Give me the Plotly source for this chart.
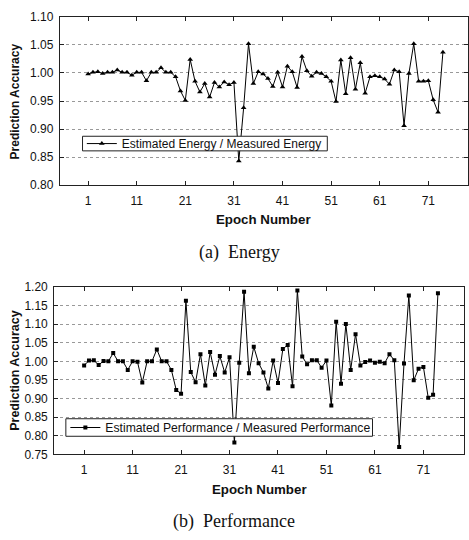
import plotly.graph_objects as go

epochs = list(range(1, 75))

energy_ratio = [
    0.998, 1.001, 1.002, 0.999, 1.001, 1.001, 1.005, 1.001, 1.001, 0.996,
    1.001, 1.001, 0.986, 1.001, 1.001, 1.009, 1.001, 1.001, 0.993, 0.968,
    0.951, 1.024, 0.985, 0.966, 0.981, 0.957, 0.983, 0.975, 0.984, 0.979,
    0.983, 0.843, 0.938, 1.052, 0.981, 1.002, 0.998, 0.990, 0.976, 1.001,
    0.975, 1.012, 1.002, 0.974, 1.029, 1.004, 0.994, 1.001, 0.999, 0.993,
    0.985, 0.949, 1.023, 0.963, 1.027, 0.971, 1.018, 0.964, 0.993, 0.995,
    0.993, 0.989, 0.980, 1.005, 1.002, 0.906, 0.999, 1.052, 0.985, 0.985,
    0.986, 0.952, 0.930, 1.037,
]

perf_ratio = [
    0.989, 1.002, 1.003, 0.990, 1.001, 1.000, 1.022, 1.000, 1.000, 0.977,
    1.000, 0.999, 0.943, 1.000, 1.000, 1.032, 1.000, 1.000, 0.977, 0.923,
    0.913, 1.163, 0.971, 0.944, 1.019, 0.935, 1.025, 0.964, 1.014, 0.970,
    1.011, 0.782, 0.996, 1.187, 0.968, 1.039, 0.995, 0.970, 0.927, 1.002,
    0.942, 1.033, 1.044, 0.933, 1.190, 1.013, 0.992, 1.003, 1.003, 0.983,
    1.002, 0.881, 1.106, 0.940, 1.100, 0.977, 1.073, 0.989, 0.998, 1.002,
    0.996, 0.999, 0.995, 1.019, 1.003, 0.770, 0.994, 1.177, 0.949, 0.980,
    0.985, 0.902, 0.910, 1.183,
]

x_tick_vals = [1, 11, 21, 31, 41, 51, 61, 71]
x_tick_text = ["1", "11", "21", "31", "41", "51", "61", "71"]
energy_label = "Estimated Energy / Measured Energy"
perf_label = "Estimated Performance / Measured Performance"
y_title = "Prediction Accuracy"
x_title = "Epoch Number"
caption_a = "(a)\u00a0 Energy"
caption_b = "(b)\u00a0 Performance"

W, H = 469, 540
SANS = "Liberation Sans, Arial, sans-serif"
SERIF = "Liberation Serif, Times New Roman, serif"

def px(x):
    return x / W

def py(y):
    return 1 - y / H

fig = go.Figure()

fig.add_trace(go.Scatter(
    x=epochs, y=energy_ratio, mode="lines+markers", name=energy_label,
    line=dict(color="black", width=1),
    marker=dict(symbol="triangle-up", size=5, color="black"),
    xaxis="x", yaxis="y", legend="legend",
))
fig.add_trace(go.Scatter(
    x=epochs, y=perf_ratio, mode="lines+markers", name=perf_label,
    line=dict(color="black", width=1),
    marker=dict(symbol="square", size=4, color="black"),
    xaxis="x2", yaxis="y2", legend="legend2",
))

axis_common = dict(
    showline=True, linecolor="#222", linewidth=1, mirror="ticks",
    ticks="inside", ticklen=4, tickcolor="#222",
    tickfont=dict(family=SANS, size=12, color="#111"),
    zeroline=False,
)

fig.update_layout(
    width=W, height=H, autosize=False,
    margin=dict(l=0, r=0, t=0, b=0),
    paper_bgcolor="white", plot_bgcolor="white",
    xaxis=dict(domain=[px(60), 1.0], range=[-4.81, 79.16],
               tickvals=x_tick_vals, ticktext=x_tick_text, showgrid=False,
               anchor="y", ticklabelstandoff=4, **axis_common),
    yaxis=dict(domain=[py(183), py(10)], range=[0.80, 1.10], dtick=0.05,
               tickformat=".2f", showgrid=True, gridcolor="#999",
               griddash="dot", gridwidth=1, anchor="x",
               ticklabelstandoff=3, **axis_common),
    xaxis2=dict(domain=[px(54.3), px(465)], range=[-5.18, 79.38],
                tickvals=x_tick_vals, ticktext=x_tick_text, showgrid=False,
                anchor="y2", ticklabelstandoff=4, **axis_common),
    yaxis2=dict(domain=[py(459.3), py(287.3)], range=[0.75, 1.20], dtick=0.05,
                tickformat=".2f", showgrid=True, gridcolor="#999",
                griddash="dot", gridwidth=1, anchor="x2",
                ticklabelstandoff=3, **axis_common),
    legend=dict(x=px(82), y=py(140.2), xanchor="left", yanchor="middle",
                bgcolor="rgba(0,0,0,0)", borderwidth=0,
                font=dict(family=SANS, size=12, color="#111"),
                itemwidth=30, tracegroupgap=0),
    legend2=dict(x=px(65.5), y=py(431.7), xanchor="left", yanchor="middle",
                 bgcolor="rgba(0,0,0,0)", borderwidth=0,
                 font=dict(family=SANS, size=12.2, color="#111"),
                 itemwidth=30, tracegroupgap=0),
    showlegend=True,
)

# legend frames (white boxes that hide the lines behind the legends)
for (x0, y0, x1, y1) in [(82.7, 132.7, 328, 147.7), (66, 422.7, 373.3, 440.7)]:
    fig.add_shape(type="rect", xref="paper", yref="paper",
                  x0=px(x0), x1=px(x1), y0=py(y1), y1=py(y0),
                  fillcolor="white", line=dict(color="#222", width=1),
                  layer="above")

annots = [
    dict(text="<b>%s</b>" % y_title, x=px(15.5), y=py(96.5), textangle=-90,
         font=dict(family=SANS, size=12, color="#111")),
    dict(text="<b>%s</b>" % y_title, x=px(15.5), y=py(373), textangle=-90,
         font=dict(family=SANS, size=12.5, color="#111")),
    dict(text="<b>%s</b>" % x_title, x=px(264.5), y=py(218),
         font=dict(family=SANS, size=13.3, color="#111")),
    dict(text="<b>%s</b>" % x_title, x=px(260), y=py(495),
         font=dict(family=SANS, size=13.3, color="#111")),
    dict(text=caption_a, x=px(240), y=py(252),
         font=dict(family=SERIF, size=18, color="#111")),
    dict(text=caption_b, x=px(235), y=py(528),
         font=dict(family=SERIF, size=18, color="#111")),
]
for a in annots:
    fig.add_annotation(xref="paper", yref="paper", showarrow=False,
                       xanchor="center", yanchor="middle", **a)

fig.write_html(
    "out.html",
    config={"displayModeBar": False},
    post_script="document.body.style.margin='0';document.body.style.overflow='hidden';",
)
